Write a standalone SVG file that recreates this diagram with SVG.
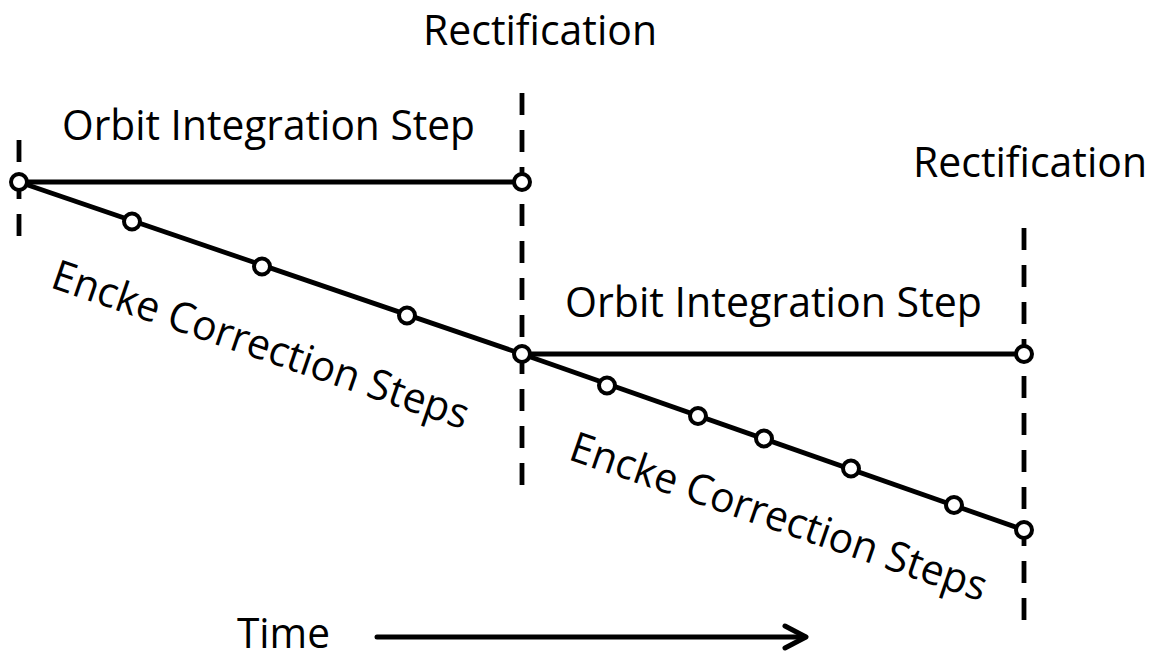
<svg xmlns="http://www.w3.org/2000/svg" width="1156" height="658" viewBox="0 0 1156 658">
<style>
  text { font-family: "Open Sans", "Noto Sans", "Liberation Sans", sans-serif; font-size: 42px; fill: #000; }
  .solid { stroke: #000; stroke-width: 4.8; fill: none; }
  .dash { stroke: #000; stroke-width: 4.8; fill: none; stroke-dasharray: 22 15; }
  .pt { stroke: #000; stroke-width: 4; fill: #fff; }
  .arrow { stroke: #000; stroke-width: 5; fill: none; stroke-linecap: round; stroke-linejoin: round; }
</style>
<rect width="1156" height="658" fill="#fff"/>
<g id="rectification-lines">
  <line class="dash" x1="19" y1="140" x2="19" y2="237"/>
  <line class="dash" x1="522" y1="93" x2="522" y2="486"/>
  <line class="dash" x1="1024" y1="228" x2="1024" y2="620"/>
</g>
<g id="connectors">
  <line class="solid" x1="19" y1="182" x2="522" y2="182"/>
  <line class="solid" x1="19" y1="182" x2="522" y2="354"/>
  <line class="solid" x1="522" y1="354" x2="1024" y2="354"/>
  <line class="solid" x1="522" y1="354" x2="1024" y2="530"/>
  <line class="arrow" x1="377" y1="637" x2="805" y2="637"/>
  <polyline class="arrow" points="785,626 806,637 785,648"/>
</g>
<g id="points">
  <circle class="pt" cx="19" cy="182" r="8"/>
  <circle class="pt" cx="522" cy="182" r="8"/>
  <circle class="pt" cx="132" cy="221.5" r="8"/>
  <circle class="pt" cx="262" cy="266.5" r="8"/>
  <circle class="pt" cx="407" cy="315.5" r="8"/>
  <circle class="pt" cx="522" cy="354" r="8"/>
  <circle class="pt" cx="1024" cy="354" r="8"/>
  <circle class="pt" cx="607" cy="385.5" r="8"/>
  <circle class="pt" cx="698" cy="416" r="8"/>
  <circle class="pt" cx="764" cy="438.5" r="8"/>
  <circle class="pt" cx="851" cy="468.5" r="8"/>
  <circle class="pt" cx="954" cy="505" r="8"/>
  <circle class="pt" cx="1024" cy="530" r="8"/>
</g>
<g id="labels">
  <text x="423" y="45" textLength="234" lengthAdjust="spacingAndGlyphs">Rectification</text>
  <text x="913" y="177" textLength="234" lengthAdjust="spacingAndGlyphs">Rectification</text>
  <text x="62" y="140" textLength="413" lengthAdjust="spacingAndGlyphs">Orbit Integration Step</text>
  <text x="565" y="317" textLength="417" lengthAdjust="spacingAndGlyphs">Orbit Integration Step</text>
  <text transform="translate(49,287) rotate(19)" textLength="438" lengthAdjust="spacingAndGlyphs">Encke Correction Steps</text>
  <text transform="translate(567,459) rotate(19)" textLength="438" lengthAdjust="spacingAndGlyphs">Encke Correction Steps</text>
  <text x="237" y="648" textLength="93" lengthAdjust="spacingAndGlyphs">Time</text>
</g>
</svg>
